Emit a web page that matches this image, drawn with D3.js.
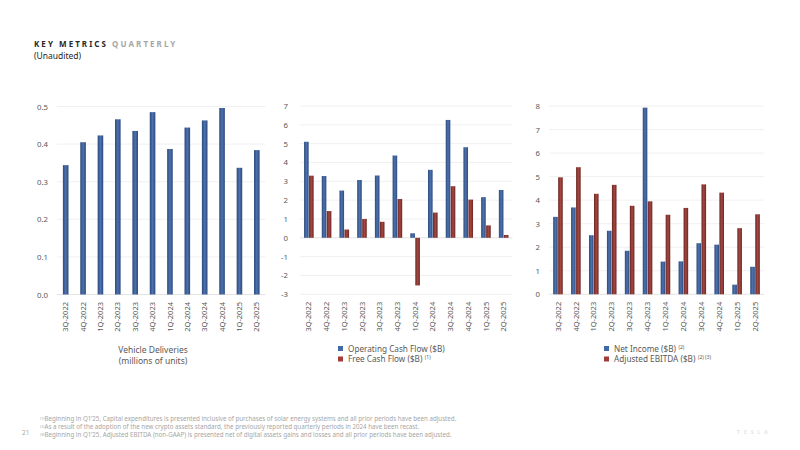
<!DOCTYPE html>
<html><head><meta charset="utf-8">
<script src="https://cdn.jsdelivr.net/npm/d3@7"></script>
<style>body{margin:0;background:#fff}svg{display:block;font-family:"Noto Sans",sans-serif}</style>
</head><body><svg id="c" width="800" height="450"></svg>
<script>
const quarters = ["3Q-2022","4Q-2022","1Q-2023","2Q-2023","3Q-2023","4Q-2023","1Q-2024","2Q-2024","3Q-2024","4Q-2024","1Q-2025","2Q-2025"];
const deliveries = [0.344,0.405,0.423,0.466,0.435,0.485,0.387,0.444,0.463,0.496,0.337,0.384];
const operatingCashFlow = [5.10,3.28,2.51,3.07,3.31,4.37,0.24,3.61,6.26,4.81,2.16,2.54];
const freeCashFlow = [3.30,1.42,0.44,1.00,0.85,2.06,-2.53,1.34,2.74,2.03,0.66,0.15];
const netIncome = [3.29,3.69,2.51,2.70,1.85,7.93,1.39,1.40,2.17,2.11,0.41,1.17];
const adjustedEbitda = [4.97,5.40,4.27,4.65,3.76,3.95,3.38,3.67,4.67,4.32,2.81,3.40];
const deliveriesTicks = [0,0.1,0.2,0.3,0.4,0.5];
const cashTicks = [-3,-2,-1,0,1,2,3,4,5,6,7];
const incomeTicks = [0,1,2,3,4,5,6,7,8];

const svg = d3.select("#c");
const defs = svg.append("defs");
function grad(id, edge, mid){
  const g = defs.append("linearGradient").attr("id",id).attr("x1","0").attr("x2","1").attr("y1","0").attr("y2","0");
  g.append("stop").attr("offset","0").attr("stop-color",edge);
  g.append("stop").attr("offset","0.5").attr("stop-color",mid);
  g.append("stop").attr("offset","1").attr("stop-color",edge);
}
grad("gBlue","#2c4a7e","#4d72ad");
grad("gRed","#6a2626","#a5473f");
const BLUE = "#4169a8", RED = "#a33b38";
const intFmt = d => String(d);

function panel(o){
  const g = svg.append("g");
  const x = d3.scaleBand().domain(quarters).range([o.x0,o.x1]);
  const y = d3.scaleLinear().domain(o.domain).range([o.yBot,o.yTop]);
  g.append("g").selectAll("line").data(o.ticks).join("line")
    .attr("x1",o.x0).attr("x2",o.x1)
    .attr("y1",d=>y(d)).attr("y2",d=>y(d))
    .attr("stroke",d=> d===0 ? "#dcdcdc" : "#ececec").attr("stroke-width",0.8);
  const ya = g.append("g").attr("transform",`translate(${o.x0},0)`)
    .call(d3.axisLeft(y).tickValues(o.ticks).tickFormat(o.fmt).tickSize(0).tickPadding(o.pad));
  ya.select(".domain").remove();
  ya.selectAll("text").attr("fill","#595959").style("font-size","7.8px").style("font-family","'Noto Sans',sans-serif");
  const n = o.series.length;
  const inner = d3.scaleBand().domain(d3.range(n)).range([-o.groupW/2, o.groupW/2]).paddingInner(o.innerPad);
  o.series.forEach((s,si)=>{
    g.append("g").selectAll("rect").data(s.values).join("rect")
      .attr("x",(d,i)=> x(quarters[i]) + x.bandwidth()/2 + inner(si))
      .attr("width", inner.bandwidth())
      .attr("y", d=> y(Math.max(0,d)))
      .attr("height", d=> Math.abs(y(d)-y(0)))
      .attr("fill", s.fill);
  });
  const xa = g.append("g").attr("transform",`translate(0,${o.yBot})`)
    .call(d3.axisBottom(x).tickSize(0));
  xa.select(".domain").remove();
  xa.selectAll("text")
    .attr("transform","rotate(-90)").attr("x",-7.5).attr("y",0).attr("dy","0.35em")
    .attr("text-anchor","end").attr("fill","#595959")
    .style("font-size","7.5px").style("font-family","'Noto Sans',sans-serif");
  return g;
}

panel({x0:57,x1:265.5,yTop:106.5,yBot:294.5,domain:[0,0.5],ticks:deliveriesTicks,fmt:d3.format(".1f"),pad:9,
  groupW:5.6,innerPad:0,series:[{values:deliveries,fill:"url(#gBlue)"}]});
panel({x0:300,x1:512.5,yTop:106,yBot:294.3,domain:[-3,7],ticks:cashTicks,fmt:intFmt,pad:12,
  groupW:9.6,innerPad:0.08,series:[{values:operatingCashFlow,fill:"url(#gBlue)"},{values:freeCashFlow,fill:"url(#gRed)"}]});
panel({x0:549,x1:764,yTop:106,yBot:294.3,domain:[0,8],ticks:incomeTicks,fmt:intFmt,pad:9,
  groupW:9.6,innerPad:0.08,series:[{values:netIncome,fill:"url(#gBlue)"},{values:adjustedEbitda,fill:"url(#gRed)"}]});

// title
const t = svg.append("text").attr("x",34).attr("y",47).style("font-size","8px").style("font-weight","bold").style("letter-spacing","2.05px");
t.append("tspan").attr("fill","#262626").text("KEY METRICS ");
t.append("tspan").attr("fill","#a6a6a6").text("QUARTERLY");
svg.append("text").attr("x",34).attr("y",59).attr("fill","#262626").style("font-size","8.5px").text("(Unaudited)");

// panel 1 label
const lab = svg.append("g").attr("fill","#595959").style("font-size","8.5px").attr("text-anchor","middle");
lab.append("text").attr("x",153).attr("y",352.5).text("Vehicle Deliveries");
lab.append("text").attr("x",153).attr("y",363.5).text("(millions of units)");

function legend(x, y0, items){
  const g = svg.append("g");
  items.forEach((it,i)=>{
    const yy = y0 + i*10.5;
    g.append("rect").attr("x",x).attr("y",yy-5.5).attr("width",5).attr("height",5).attr("fill",it.color);
    const tx = g.append("text").attr("x",x+10).attr("y",yy).attr("fill","#595959").style("font-size","8.2px");
    tx.append("tspan").text(it.label);
    if(it.sup){ tx.append("tspan").attr("dx",2.5).attr("dy",-3).style("font-size","5px").text(it.sup); }
  });
}
legend(338, 351.5, [{label:"Operating Cash Flow ($B)",color:BLUE},{label:"Free Cash Flow ($B)",color:RED,sup:"(1)"}]);
legend(604, 351.5, [{label:"Net Income ($B)",color:BLUE,sup:"(2)"},{label:"Adjusted EBITDA ($B)",color:RED,sup:"(2) (3)"}]);

// footnotes
const notes = [
  ["(1)","Beginning in Q1’25, Capital expenditures is presented inclusive of purchases of solar energy systems and all prior periods have been adjusted."],
  ["(2)","As a result of the adoption of the new crypto assets standard, the previously reported quarterly periods in 2024 have been recast."],
  ["(3)","Beginning in Q1’25, Adjusted EBITDA (non-GAAP) is presented net of digital assets gains and losses and all prior periods have been adjusted."]
];
const fn = svg.append("g").attr("fill","#a6a6a6");
notes.forEach((n,i)=>{
  const tx = fn.append("text").attr("x",40).attr("y",421+i*8).style("font-size","6.2px");
  tx.append("tspan").attr("dy",-1.5).style("font-size","3.8px").text(n[0]);
  tx.append("tspan").attr("dy",1.5).text(n[1]);
});
svg.append("text").attr("x",22).attr("y",435).attr("fill","#a6a6a6").style("font-size","6.5px").text("21");
svg.append("text").attr("x",737).attr("y",434).attr("fill","#e4e4e4").style("font-size","5px").style("font-weight","bold").style("letter-spacing","4px").text("TESLA");
</script></body></html>
